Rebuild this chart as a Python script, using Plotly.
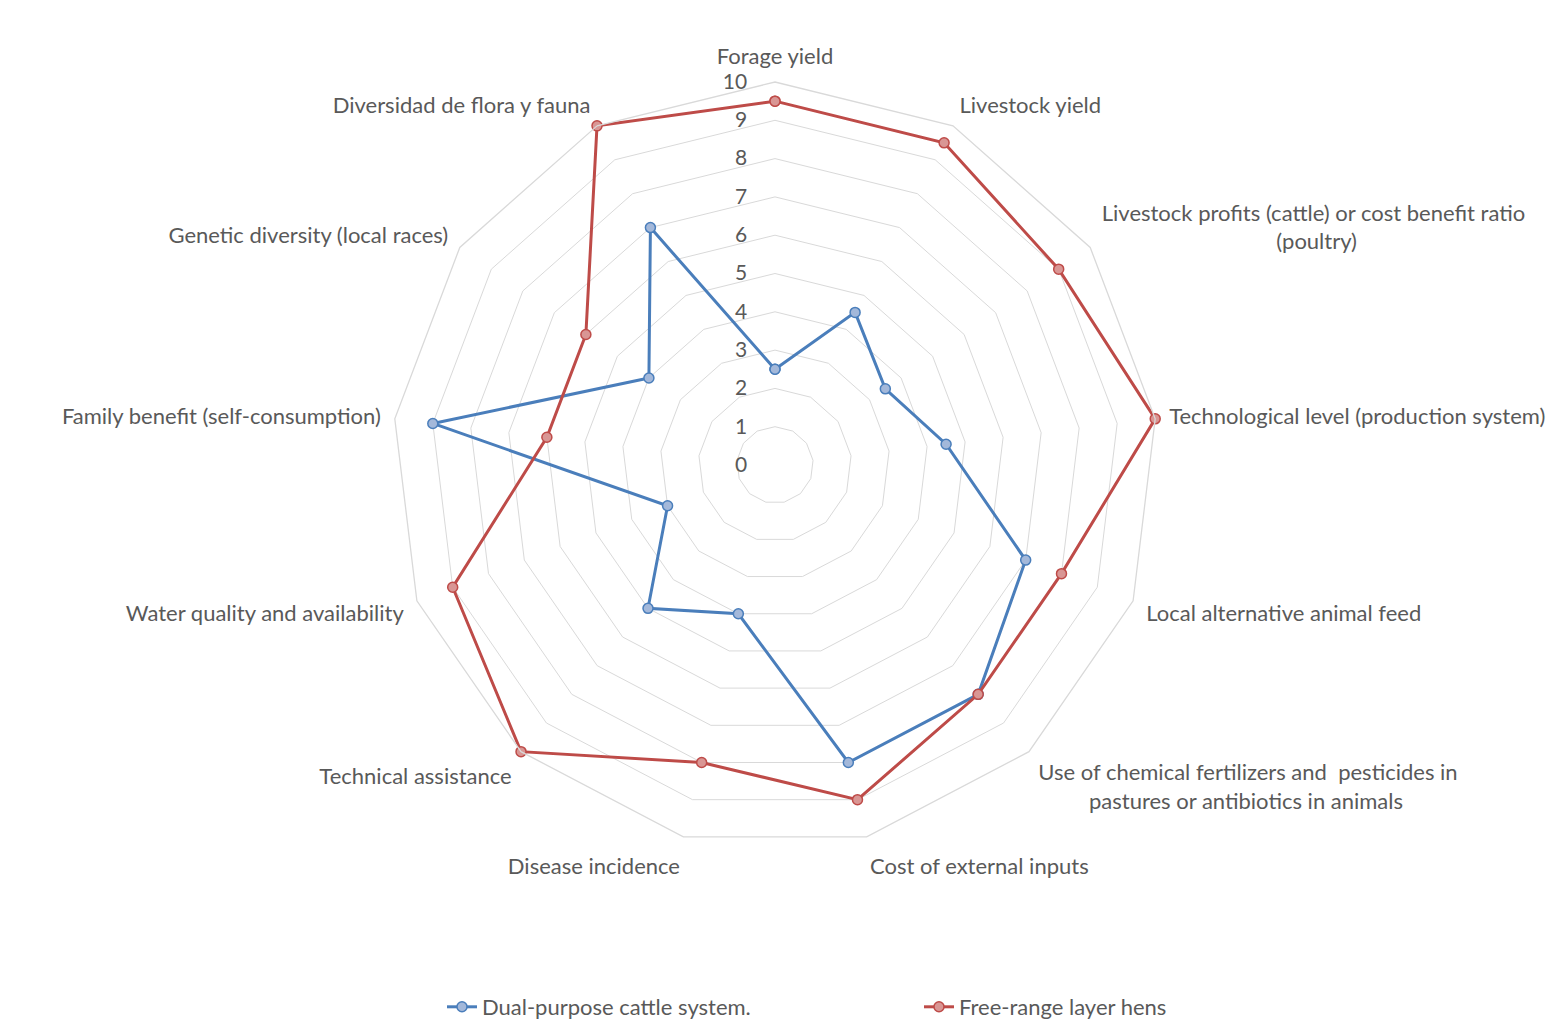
import plotly.graph_objects as go

NB = "\u00a0"
categories = [
    "Forage yield",
    "Livestock yield",
    "Livestock profits (cattle) or cost benefit ratio<br>" + NB * 31 + "(poultry)",
    "Technological level (production system)",
    "Local alternative animal feed",
    "Use of chemical fertilizers and  pesticides in<br>" + NB * 9 + "pastures or antibiotics in animals",
    "Cost of external inputs",
    "Disease incidence",
    "Technical assistance",
    "Water quality and availability",
    "Family benefit (self-consumption)",
    "Genetic diversity (local races)",
    "Diversidad de flora y fauna",
]
cattle = [2.5, 4.5, 3.5, 4.5, 7, 8, 8, 4, 5, 3, 9, 4, 7]
hens = [9.5, 9.5, 9, 10, 8, 8, 9, 8, 10, 9, 6, 6, 10]
series_names = ["Dual-purpose cattle system.", "Free-range layer hens"]

def closed(v):
    return list(v) + [v[0]]

gray = "#595959"
font_family = "Lato, 'Open Sans', sans-serif"

fig = go.Figure()
fig.add_trace(go.Scatterpolar(
    r=closed(cattle), theta=closed(categories), name=series_names[0],
    mode="lines+markers",
    line=dict(color="#4A7EBB", width=3),
    marker=dict(size=10, color="#A3B8DA", line=dict(color="#4A7EBB", width=1.5)),
))
fig.add_trace(go.Scatterpolar(
    r=closed(hens), theta=closed(categories), name=series_names[1],
    mode="lines+markers",
    line=dict(color="#BE4B48", width=3),
    marker=dict(size=10, color="#D99694", line=dict(color="#BE4B48", width=1.5)),
))

fig.update_layout(
    width=1563, height=1028,
    margin=dict(l=0, r=0, t=0, b=0),
    paper_bgcolor="white", plot_bgcolor="white",
    font=dict(family=font_family, size=22, color=gray),
    polar=dict(
        domain=dict(x=[392/1563, 1158/1563], y=[180/1028, 946/1028]),
        gridshape="linear",
        bgcolor="white",
        radialaxis=dict(
            range=[0, 10], dtick=1, tick0=0, angle=90, tickangle=90,
            side="counterclockwise",
            showline=False, ticks="outside", ticklen=20, tickcolor="rgba(0,0,0,0)",
            gridcolor="#D9D9D9", gridwidth=1.3,
            tickfont=dict(size=21, color=gray),
        ),
        angularaxis=dict(
            rotation=90, direction="clockwise",
            showgrid=False, showline=True, linecolor="#D9D9D9", linewidth=1.3,
            ticks="outside", ticklen=9, tickcolor="rgba(0,0,0,0)",
            tickfont=dict(size=22, color=gray),
        ),
    ),
    showlegend=True,
    legend=dict(
        orientation="h", x=442/1563, xanchor="left", y=0.02, yanchor="middle",
        font=dict(size=22, color=gray),
        entrywidth=432, entrywidthmode="pixels",
        tracegroupgap=0,
    ),
)

fig.write_html("out.html")
